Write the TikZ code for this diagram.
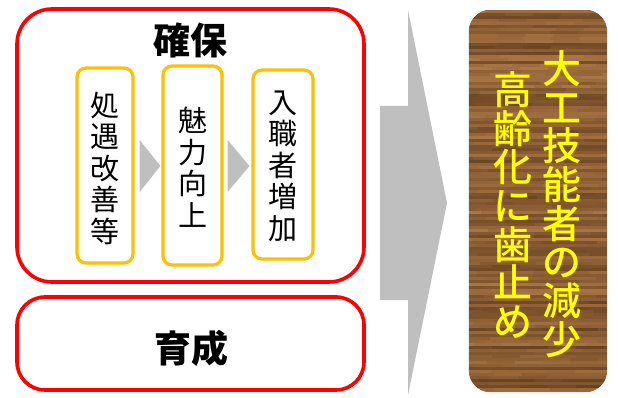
\documentclass[tikz,border=0pt]{standalone}
\usepackage{fontspec}
\newfontfamily\jp{Noto Sans CJK JP}
\newfontfamily\jpm{Noto Sans CJK JP Medium}
\definecolor{boxred}{HTML}{FF0000}
\definecolor{boxorange}{HTML}{FFC000}
\definecolor{arrowgray}{HTML}{BFBFBF}
\definecolor{woodA}{HTML}{5C3618}
\definecolor{woodB}{HTML}{B07C4A}
\definecolor{woodtext}{HTML}{FFFF00}
\tikzset{
  redbox/.style={draw=boxred, line width=3.6pt, rounded corners=30pt, fill=white},
  orbox/.style={draw=boxorange, line width=3.2pt, rounded corners=9pt, fill=white, inner sep=0pt},
  vtext/.style={align=center, inner sep=0pt, font=\jp\fontsize{29}{31.5}\selectfont},
  ytext/.style={align=center, inner sep=0pt, text=woodtext, font=\jpm\fontsize{39}{38.7}\selectfont},
  title/.style={inner sep=0pt, font=\jp\bfseries\fontsize{37}{40}\selectfont},
  chevron/.style={fill=arrowgray, draw=none}
}
\begin{document}
\begin{tikzpicture}[x=1pt,y=-1pt]
\useasboundingbox (0,0) rectangle (618,398);
% red frames
\node[redbox, minimum width=347pt, minimum height=273pt, rounded corners=35pt] (kakuho) at (190.5,145.5) {};
\node[redbox, minimum width=347pt, minimum height=93pt, rounded corners=28pt] (ikusei) at (190.5,343.5) {};
\node[title] (kakuhoT) at (190,40) {確保};
\node[title] (ikuseiT) at (191,348) {育成};
% orange boxes
\node[orbox, minimum width=56pt, minimum height=195pt] (b1) at (105,165.5) {};
\node[orbox, minimum width=59pt, minimum height=199pt] (b2) at (192.5,165.5) {};
\node[orbox, minimum width=60pt, minimum height=189pt] (b3) at (283,164.5) {};
\node[vtext] (t1) at (105,168) {処\\遇\\改\\善\\等};
\node[vtext] (t2) at (193,167) {魅\\力\\向\\上};
\node[vtext] (t3) at (283,166) {入\\職\\者\\増\\加};
% chevrons between boxes
\fill[chevron] ([xshift=5pt]b1.east |- 0,140) -- ([xshift=-1pt]b2.west |- 0,166) -- ([xshift=5pt]b1.east |- 0,192) -- cycle;
\fill[chevron] ([xshift=4pt]b2.east |- 0,140) -- ([xshift=-2pt]b3.west |- 0,166) -- ([xshift=4pt]b2.east |- 0,192) -- cycle;
% big arrow
\fill[chevron] (380,106) -- (408,106) -- (408,10) -- (447,203) -- (408,395) -- (408,300) -- (380,300) -- cycle;
% wood box
\node[minimum width=138pt, minimum height=382pt, inner sep=0pt] (wood) at (538,201) {};
\begin{scope}
\clip[rounded corners=22pt] (wood.south west) rectangle (wood.north east);
\fill[woodB!60!woodA] (wood.south west) rectangle (wood.north east);
\pgfmathsetseed{4242}
\foreach \i in {0,...,127} {
  \pgfmathtruncatemacro{\rb}{random(25,85)}
  \pgfmathtruncatemacro{\off}{random(0,27)}
  \foreach \j in {0,...,5} {
    \pgfmathtruncatemacro{\rv}{max(0,min(100,\rb+random(-8,8)))}
    \fill[woodB!\rv!woodA] (441+\off+\j*28,10+\i*3) rectangle (469+\off+\j*28,13+\i*3);
  }
}
\end{scope}
\node[ytext] (y1) at (562,204) {大\\工\\技\\能\\者\\の\\減\\少};
\node[ytext] (y2) at (513,205) {高\\齢\\化\\に\\歯\\止\\め};
\end{tikzpicture}
\end{document}
